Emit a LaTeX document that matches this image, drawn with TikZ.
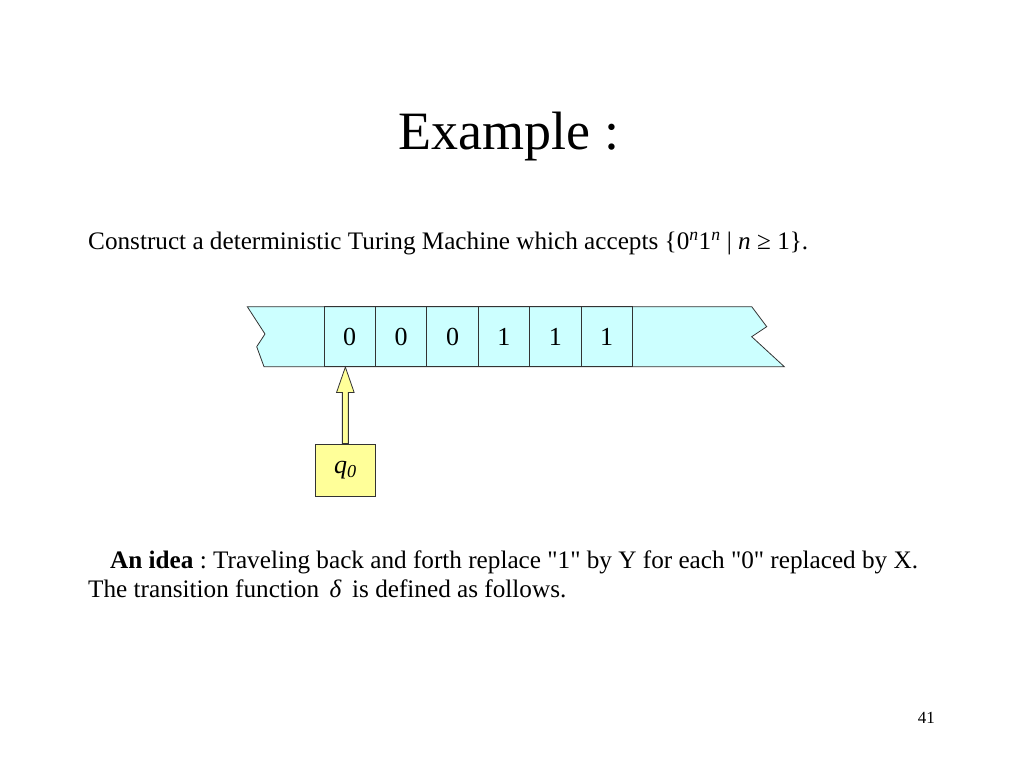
\documentclass[tikz,border=0pt]{standalone}
\usepackage{fontspec}
\setmainfont{Liberation Serif}
\usetikzlibrary{calc}
\definecolor{tapecol}{HTML}{CCFFFF}
\definecolor{headcol}{HTML}{FFFF99}
\definecolor{linecol}{HTML}{333333}
\newcommand{\strq}{\XeTeXglyph\XeTeXglyphindex "quotedbl"\relax}
\frenchspacing
\tikzset{
  cell/.style={draw=linecol,line width=0.8pt,minimum width=51.4pt,minimum height=60pt,inner sep=0pt,
    font=\fontsize{26}{30}\selectfont},
  headbox/.style={draw=linecol,line width=0.8pt,fill=headcol,minimum width=59.3pt,minimum height=52pt,
    inner sep=0pt,font=\fontsize{26}{30}\selectfont},
  txt/.style={inner sep=0pt,font=\fontsize{25.2}{30}\selectfont}
}
\begin{document}
\begin{tikzpicture}[x=1pt,y=1pt]
\useasboundingbox (0,0) rectangle (1024,768);
\node[inner sep=0pt,anchor=base,font=\fontsize{54}{60}\selectfont] (title) at (509,618.7) {Example :};
\node[txt,anchor=base west] (task) at (88,518.7)
  {Construct a deterministic Turing Machine which accepts \{0\textsuperscript{\textit{n}}1\textsuperscript{\textit{n}} | \textit{n} ≥ 1\}.};
% tape
\draw[linecol,line width=0.8pt,fill=tapecol] (247.3,461.3)--(265,434)--(256.7,421.3)--(264,401.3)--(784.3,401.3)
  --(751.7,431.3)--(766.7,441.3)--(751.7,461.3)--cycle;
\node[cell] (c1) at (349.7,431.3) {0};
\node[cell] (c2) at (401.1,431.3) {0};
\node[cell] (c3) at (452.5,431.3) {0};
\node[cell] (c4) at (503.9,431.3) {1};
\node[cell] (c5) at (555.3,431.3) {1};
\node[cell] (c6) at (606.7,431.3) {1};
% head
\node[headbox] (head) at (345.35,298) {\textit{q}\textsubscript{\textit{0}}};
\coordinate (tip) at (head.north |- c1.south);
\coordinate (base) at (head.north);
\draw[linecol,line width=0.8pt,fill=headcol] (tip)--($(tip)+(8.8,-25.4)$)--($(tip)+(3,-25.4)$)--($(base)+(3,0)$)
  --($(base)+(-3,0)$)--($(tip)+(-3,-25.4)$)--($(tip)+(-8.8,-25.4)$)--cycle;
\node[txt,anchor=base west] (idea) at (110,199.5)
  {\textbf{An idea} : Traveling back and forth replace \strq1\strq{} by Y for each \strq0\strq{} replaced by X.};
\node[txt,anchor=base west] (delta) at (88,170.3)
  {The transition function \,\textit{δ}\, is defined as follows.};
\node[inner sep=0pt,anchor=base east,font=\fontsize{17}{20}\selectfont] (page) at (935,44.7) {41};
\end{tikzpicture}
\end{document}
